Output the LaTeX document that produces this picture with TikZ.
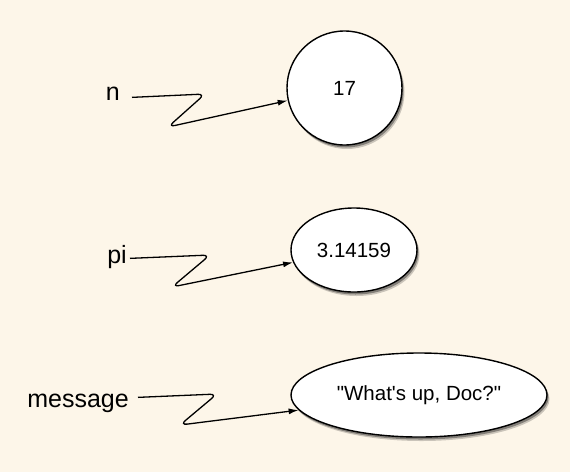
\documentclass[tikz,border=0pt]{standalone}
\usepackage{fontspec}
\setmainfont{Liberation Sans}
\usetikzlibrary{shapes.geometric, shadows, arrows.meta}
\definecolor{paper}{RGB}{253,246,233}

\tikzset{
  varname/.style={inner sep=0pt, anchor=base east, font=\fontsize{25}{30}\selectfont},
  value/.style={ellipse, draw, line width=1.4pt, fill=white, inner sep=0pt,
    font=\fontsize{20.5}{24}\selectfont,
    drop shadow={shadow xshift=2.5pt, shadow yshift=-4pt, opacity=.2, fill=black},
    drop shadow={shadow xshift=1.5pt, shadow yshift=-2.5pt, opacity=.35, fill=black}},
  link/.style={line width=1.3pt, rounded corners=7pt, -{Latex[length=10pt,width=6pt]}},
}

\begin{document}
\begin{tikzpicture}[x=1pt, y=-1pt]
\fill[paper] (0,0) rectangle (570,472);
% values
\node[value, minimum width=115pt, minimum height=114pt] (v1) at (344.5,88) {17};
\node[value, minimum width=126pt, minimum height=84pt] (v2) at (354,250) {3.14159};
\node[value, minimum width=256pt, minimum height=84pt] (v3) at (419,395) {\textquotedbl What\textquotesingle s up, Doc?\textquotedbl};
% names
\node[varname] (n) at (120,100) {n};
\node[varname] (pi) at (127,263) {pi};
\node[varname] (msg) at (129,407) {message};
% bends
\coordinate (n1) at (205,94);
\coordinate (n2) at (168,127);
\coordinate (p1) at (210,255);
\coordinate (p2) at (172,287);
\coordinate (m1) at (217,394);
\coordinate (m2) at (180,425);
\draw[link] ([xshift=12pt]n.mid east) -- (n1) -- (n2) -- (v1);
\draw[link] ([xshift=3pt,yshift=2pt]pi.mid east) -- (p1) -- (p2) -- (v2);
\draw[link] ([xshift=9pt,yshift=7pt]msg.mid east) -- (m1) -- (m2) -- (v3);
\end{tikzpicture}
\end{document}
